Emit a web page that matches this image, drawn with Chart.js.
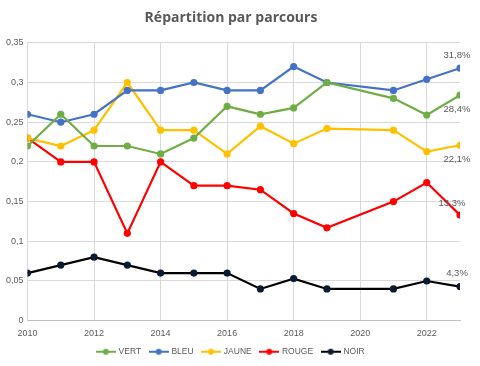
<!DOCTYPE html>
<html>
<head>
<meta charset="utf-8">
<script src="https://cdn.jsdelivr.net/npm/chart.js@4.4.0/dist/chart.umd.min.js"></script>
<style>
html,body{margin:0;padding:0;background:#fff;}
#wrap{width:480px;height:366px;position:relative;}
</style>
</head>
<body>
<div id="wrap"><canvas id="c" width="480" height="366"></canvas></div>
<script>
const years = [2010, 2011, 2012, 2013, 2014, 2015, 2016, 2017, 2018, 2019, 2021, 2022, 2023];
const vert  = [0.22, 0.26, 0.22, 0.22, 0.21, 0.23, 0.27, 0.26, 0.268, 0.30, 0.28, 0.259, 0.284];
const bleu  = [0.26, 0.25, 0.26, 0.29, 0.29, 0.30, 0.29, 0.29, 0.32, 0.30, 0.29, 0.304, 0.318];
const jaune = [0.23, 0.22, 0.24, 0.30, 0.24, 0.24, 0.21, 0.245, 0.223, 0.242, 0.240, 0.213, 0.221];
const rouge = [0.23, 0.20, 0.20, 0.11, 0.20, 0.17, 0.17, 0.165, 0.135, 0.117, 0.150, 0.174, 0.133];
const noir  = [0.06, 0.07, 0.08, 0.07, 0.06, 0.06, 0.06, 0.04, 0.053, 0.04, 0.04, 0.050, 0.043];
const seriesNames = ['VERT', 'BLEU', 'JAUNE', 'ROUGE', 'NOIR'];
const endLabels = ['28,4%', '31,8%', '22,1%', '13,3%', '4,3%'];
const xTicks = [2010, 2012, 2014, 2016, 2018, 2020, 2022];
const yTicks = [0, 0.05, 0.1, 0.15, 0.2, 0.25, 0.3, 0.35];
const yTickLabels = ['0', '0,05', '0,1', '0,15', '0,2', '0,25', '0,3', '0,35'];

const colors = ['#70AD47', '#4472C4', '#FFC000', '#FF0000', '#000000'];
const pointColors = ['#70AD47', '#4472C4', '#FFC000', '#FF0000', '#0a1a33'];
const allSeries = [vert, bleu, jaune, rouge, noir];
// label offsets relative to last point [dx, dy]
const labelOffsets = [[-3, 14], [-3, -13], [-3, 14], [-8, -12], [-3, -13]];

function legendIcon(color, dot) {
  const cv = document.createElement('canvas');
  cv.width = 20; cv.height = 8;
  const g = cv.getContext('2d');
  g.strokeStyle = color; g.lineWidth = 2;
  g.beginPath(); g.moveTo(0, 4); g.lineTo(20, 4); g.stroke();
  g.fillStyle = dot; g.beginPath(); g.arc(10, 4, 3, 0, Math.PI * 2); g.fill();
  return cv;
}
const icons = colors.map((c, i) => legendIcon(c, pointColors[i]));

const datasets = allSeries.map((s, i) => ({
  label: seriesNames[i],
  data: s.map((v, j) => ({ x: years[j], y: v })),
  borderColor: colors[i],
  backgroundColor: pointColors[i],
  pointBackgroundColor: pointColors[i],
  pointBorderColor: pointColors[i],
  pointBorderWidth: 0,
  borderWidth: 2.2,
  pointRadius: 3.6,
  pointHoverRadius: 3.6,
  tension: 0
}));

const endLabelPlugin = {
  id: 'endLabels',
  afterDatasetsDraw(chart) {
    const ctx = chart.ctx;
    ctx.save();
    ctx.font = '9.5px "Liberation Sans", "DejaVu Sans", sans-serif';
    ctx.fillStyle = '#595959';
    ctx.textAlign = 'center';
    ctx.textBaseline = 'middle';
    chart.data.datasets.forEach((ds, i) => {
      const meta = chart.getDatasetMeta(i);
      const pt = meta.data[meta.data.length - 1];
      ctx.fillText(endLabels[i], pt.x + labelOffsets[i][0], pt.y + labelOffsets[i][1]);
    });
    ctx.restore();
  }
};

new Chart(document.getElementById('c'), {
  type: 'line',
  data: { datasets },
  plugins: [endLabelPlugin],
  options: {
    responsive: false,
    animation: false,
    layout: { padding: { left: 2, right: 20, top: 0, bottom: 0 } },
    plugins: {
      title: {
        display: true,
        text: 'Répartition par parcours',
        color: '#595959',
        font: { family: '"Open Sans", "Liberation Sans", sans-serif', size: 14, weight: 'bold' },
        padding: { top: 10, bottom: 16 }
      },
      legend: {
        position: 'bottom',
        labels: {
          usePointStyle: true,
          pointStyleWidth: 17,
          boxHeight: 8,
          padding: 9,
          color: '#595959',
          font: { family: '"Liberation Sans", "DejaVu Sans", sans-serif', size: 8.5 },
          generateLabels(chart) {
            return chart.data.datasets.map((ds, i) => ({
              text: ds.label,
              fillStyle: colors[i],
              strokeStyle: colors[i],
              lineWidth: 0,
              pointStyle: icons[i],
              fontColor: '#595959',
              datasetIndex: i,
              hidden: false
            }));
          }
        }
      },
      tooltip: { enabled: false }
    },
    scales: {
      x: {
        type: 'linear',
        min: 2010,
        max: 2023,
        afterBuildTicks(axis) { axis.ticks = xTicks.map(v => ({ value: v })); },
        afterFit(axis) { axis.height -= 7; },
        grid: { color: '#d9d9d9', drawTicks: false, lineWidth: 1 },
        border: { color: '#bfbfbf', width: 1 },
        ticks: {
          color: '#595959',
          padding: 7,
          maxRotation: 0,
          font: { family: '"Liberation Sans", "DejaVu Sans", sans-serif', size: 9 },
          callback: v => String(v)
        }
      },
      y: {
        min: 0,
        max: 0.35,
        afterBuildTicks(axis) { axis.ticks = yTicks.map(v => ({ value: v })); },
        grid: { color: '#d9d9d9', drawTicks: false, lineWidth: 1 },
        border: { color: '#d9d9d9', width: 1 },
        ticks: {
          color: '#595959',
          padding: 4,
          font: { family: '"Liberation Sans", "DejaVu Sans", sans-serif', size: 9 },
          callback: (v, idx) => yTickLabels[idx]
        }
      }
    }
  }
});
</script>
</body>
</html>
